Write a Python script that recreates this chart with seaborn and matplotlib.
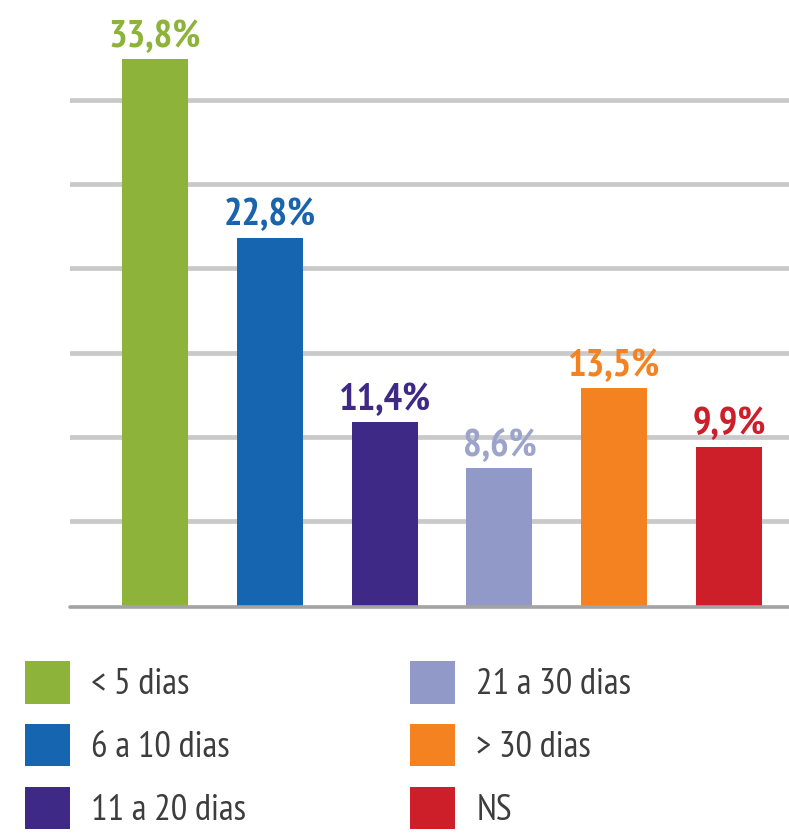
import matplotlib
matplotlib.use("Agg")
import matplotlib.pyplot as plt
import seaborn as sns

categories = ["< 5 dias", "6 a 10 dias", "11 a 20 dias", "21 a 30 dias", "> 30 dias", "NS"]
values = [33.8, 22.8, 11.4, 8.6, 13.5, 9.9]
value_labels = ["33,8%", "22,8%", "11,4%", "8,6%", "13,5%", "9,9%"]
bar_colors = ["#8db33a", "#1565b1", "#3e2a86", "#9199c9", "#f58220", "#cc1f2a"]
label_colors = ["#8db33a", "#1a64ad", "#3e2a86", "#9ca4cc", "#f58220", "#cc1f2a"]
grid_values = [5.3, 10.5, 15.7, 20.9, 26.1, 31.3]

sns.set_theme(style="white")
fams = ["PT Sans Narrow", "Roboto Condensed", "DejaVu Sans"]
plt.rcParams["font.family"] = fams

fig = plt.figure(figsize=(7.89, 8.33), dpi=100)
ax = fig.add_axes([70 / 789, 1 - 607 / 833, 1 - 70 / 789, 607 / 833])

for g in grid_values:
    ax.axhline(g, color="#c9c9c9", lw=3.4, zorder=0)

sns.barplot(x=categories, y=values, hue=categories, palette=bar_colors,
            width=0.574, saturation=1, linewidth=0, legend=True, ax=ax, zorder=2)

ax.axhline(0, color="#a3a3a3", lw=2.6, zorder=3, clip_on=False)

for i, (v, lab, c) in enumerate(zip(values, value_labels, label_colors)):
    ax.annotate(lab, (i, v), xytext=(0, 9), textcoords="offset points",
                ha="center", va="baseline", color=c, fontsize=28,
                fontweight="bold", family=fams)

ax.set_xlim(-(155 - 70) / 115, 5 + (789 - 729) / 115)
ax.set_ylim(0, 607 / 16.2)
ax.set_xticks([])
ax.set_yticks([])
ax.set_xlabel("")
ax.set_ylabel("")
sns.despine(ax=ax, left=True, bottom=True, top=True, right=True)

handles, labels = ax.get_legend_handles_labels()
ax.get_legend().remove()
fig.legend(handles, labels, loc="upper left", bbox_to_anchor=(25 / 789, 1 - 661 / 833),
           ncol=2, frameon=False, borderpad=0, borderaxespad=0,
           prop={"family": fams, "size": 26.5},
           labelcolor="#3d3d3d", handlelength=1.22, handleheight=1.4,
           handletextpad=0.58, labelspacing=0.55, columnspacing=4.45)

fig.savefig("out.png", dpi=100)
